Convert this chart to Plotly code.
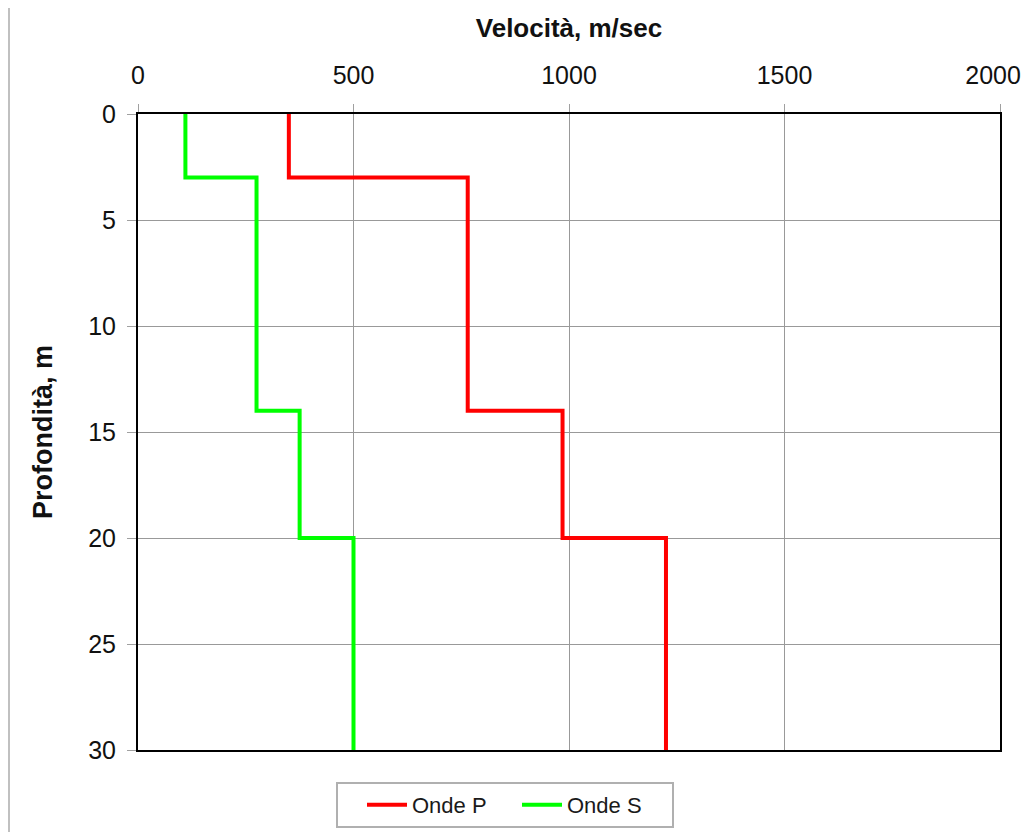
import plotly.graph_objects as go

# Data
layer_tops = [0, 3, 14, 20]
max_depth = 30
vel_p = [350, 765, 985, 1225]
vel_s = [110, 275, 375, 500]
series_names = ["Onde P", "Onde S"]
x_ticks = [0, 500, 1000, 1500, 2000]
y_ticks = [0, 5, 10, 15, 20, 25, 30]

def step_xy(vels):
    xs = list(vels) + [vels[-1]]
    ys = list(layer_tops) + [max_depth]
    return xs, ys

FONT = "Liberation Sans, Arial, sans-serif"

# screen -> figure pixel mapping (page body margin of 8px)
OFF = 8
def fx(x):
    return x - OFF
def fy(y):
    return y - OFF

FW, FH = 1030 - OFF, 840
L, R, T, B = fx(138), fx(1000), fy(114), fy(750)
W, H = R - L, B - T
def px(x):
    return (fx(x) - L) / W
def py(y):
    return (B - fy(y)) / H

# keep the last label inside the page edge (invisible trailing figure space)
x_ticktext = [str(v) for v in x_ticks]
x_ticktext[-1] = x_ticktext[-1] + "\u2007"

fig = go.Figure()
for name, vels, col in [(series_names[0], vel_p, "#ff0000"), (series_names[1], vel_s, "#00ff00")]:
    xs, ys = step_xy(vels)
    fig.add_trace(go.Scatter(x=xs, y=ys, mode="lines", name=name,
                             line=dict(color=col, width=4, shape="vh")))

fig.update_layout(
    width=FW, height=FH,
    margin=dict(l=L, r=FW - R, t=T, b=FH - B),
    paper_bgcolor="white", plot_bgcolor="white",
    font=dict(family=FONT, color="#111111"),
    showlegend=True,
    legend=dict(orientation="h", x=px(362), xanchor="left", y=py(805), yanchor="middle",
                borderwidth=0, bgcolor="rgba(0,0,0,0)",
                font=dict(size=22, family=FONT, color="#1a1a1a"),
                itemwidth=40, entrywidth=100),
    xaxis=dict(side="top", range=[0, 2000], tickvals=x_ticks, ticktext=x_ticktext, automargin=False,
               ticklabeloverflow="allow",
               tickfont=dict(size=25, family=FONT),
               title=dict(text="<b>Velocità, m/sec</b>", font=dict(size=26, family=FONT), standoff=16),
               showgrid=True, gridcolor="#999999", gridwidth=1,
               showline=True, linecolor="black", linewidth=2, mirror=True,
               ticks="outside", ticklen=8, tickcolor="#a0a0a0", ticklabelstandoff=10,
               zeroline=False),
    yaxis=dict(range=[30, 0], tickvals=y_ticks, automargin=False,
               ticklabeloverflow="allow",
               tickfont=dict(size=25, family=FONT),
               title=dict(text="<b>Profondità, m</b>", font=dict(size=27, family=FONT), standoff=28),
               showgrid=True, gridcolor="#999999", gridwidth=1,
               showline=True, linecolor="black", linewidth=2, mirror=True,
               ticks="outside", ticklen=9, tickcolor="#a0a0a0", ticklabelstandoff=6,
               zeroline=False),
    shapes=[
        dict(type="line", xref="paper", yref="paper",
             x0=px(OFF + 1), x1=px(OFF + 1), y0=py(850), y1=py(0),
             line=dict(color="#c0c0c0", width=2)),
        dict(type="rect", xref="paper", yref="paper",
             x0=px(337), x1=px(673), y0=py(827), y1=py(783),
             line=dict(color="#b0b0b0", width=2), fillcolor="rgba(0,0,0,0)"),
    ],
)

fig.write_html("out.html")
